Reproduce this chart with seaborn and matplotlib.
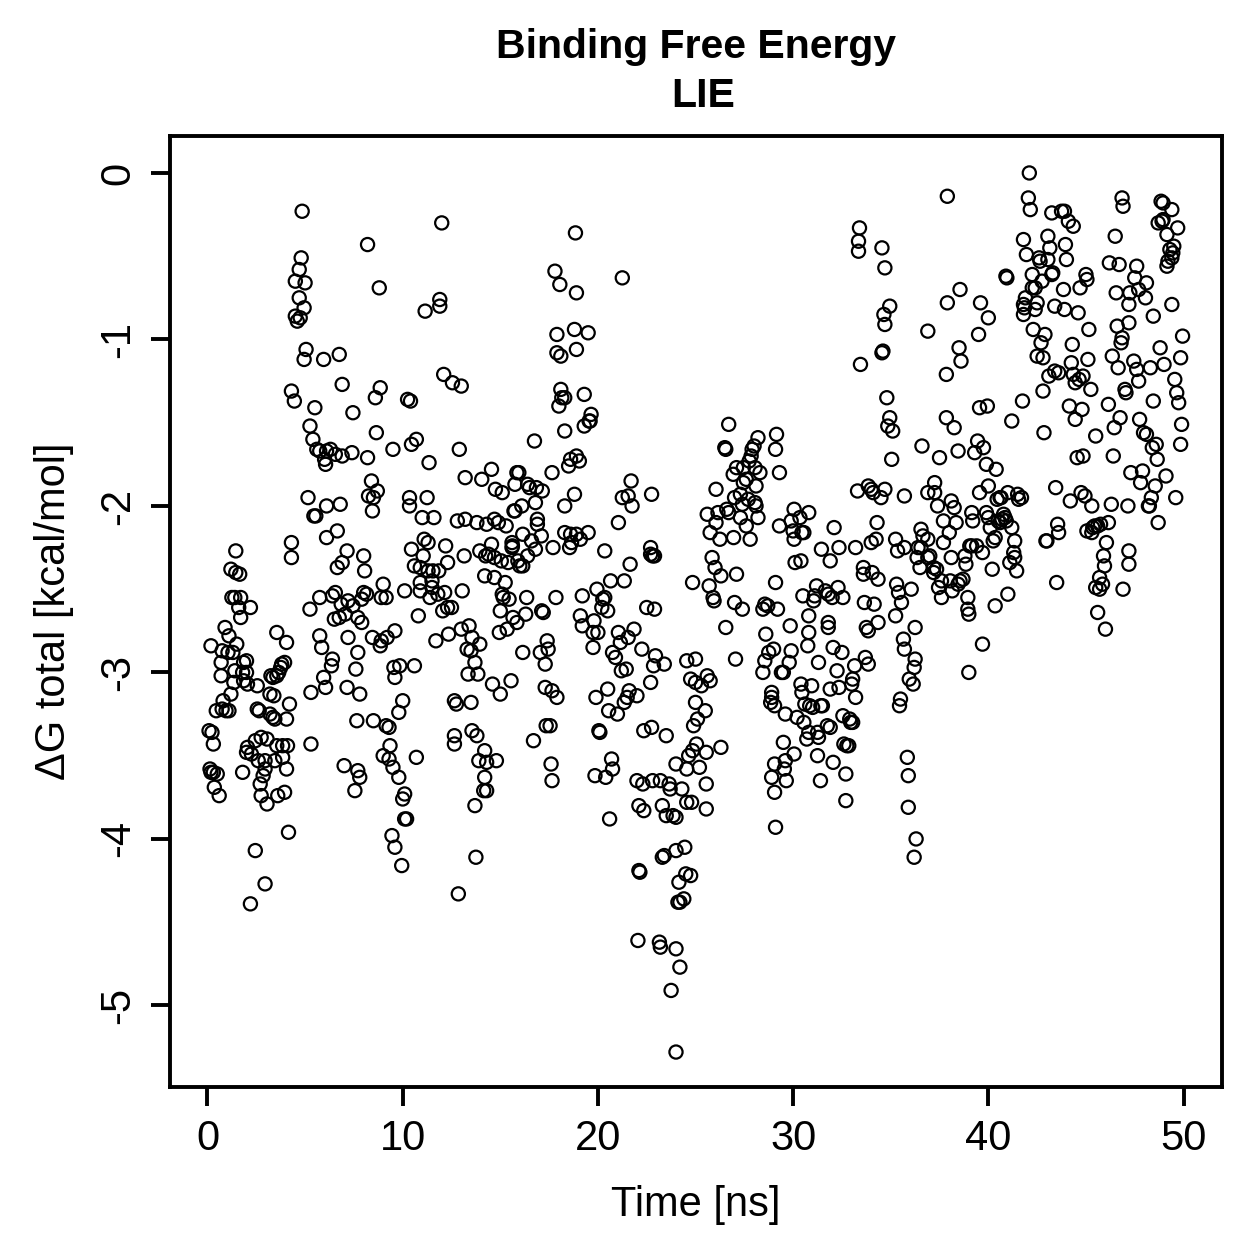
import matplotlib
matplotlib.use("Agg")
import matplotlib.pyplot as plt
import pandas as pd
import seaborn as sns

# (time in ns, total binding free energy in kcal/mol), grouped by 10 ns windows
window_00_10 = [
(0.08,-3.35),(0.23,-3.36),(0.13,-3.58),(0.18,-3.6),(0.3,-3.6),(0.5,-3.61),(0.35,-3.69),(0.6,-3.74),(0.18,-2.84),(0.3,-3.43),
(0.9,-2.73),(1.1,-2.78),(0.75,-2.87),(1.05,-2.88),(1.3,-2.88),(0.7,-2.94),(0.7,-3.02),(1.4,-2.99),(0.45,-3.23),(0.8,-3.17),
(0.75,-3.22),(0.95,-3.23),(1.1,-3.23),(1.2,-3.13),(1.35,-3.06),(1.5,-2.83),(1.2,-2.38),(1.45,-2.27),(1.45,-2.4),(1.65,-2.41),
(1.25,-2.55),(1.4,-2.55),(1.7,-2.55),(1.6,-2.61),(2.2,-2.61),(1.7,-2.67),(1.85,-2.94),(2.0,-2.93),(1.8,-3.0),(2.0,-3.0),
(1.85,-3.05),(2.05,-3.07),(1.8,-3.6),(2.05,-3.45),(2.0,-3.48),(2.25,-3.49),(2.45,-3.41),(2.75,-3.39),(3.05,-3.4),(2.6,-3.53),
(2.95,-3.53),(2.95,-3.58),(2.85,-3.62),(2.7,-3.67),(2.75,-3.74),(3.05,-3.79),(2.45,-4.07),(2.95,-4.27),(2.2,-4.39),(2.55,-3.08),
(2.55,-3.22),(2.65,-3.23),(3.25,-3.02),(3.35,-3.03),(3.55,-3.02),(3.2,-3.13),(3.4,-3.14),(3.2,-3.25),(3.35,-3.27),(3.45,-3.28),
(3.55,-2.76),(3.8,-2.95),(3.75,-2.97),(3.95,-2.94),(3.65,-3.0),(4.05,-2.82),(4.05,-3.28),(4.2,-3.19),(3.55,-3.44),(3.85,-3.44),
(4.1,-3.44),(3.85,-3.51),(4.05,-3.58),(3.95,-3.72),(3.6,-3.74),(4.15,-3.96),(3.45,-3.53),(4.85,-0.23),(4.8,-0.51),(4.7,-0.58),
(5.0,-0.66),(4.5,-0.65),(4.7,-0.75),(4.5,-0.86),(4.95,-0.81),(4.75,-0.87),(4.6,-0.89),(4.3,-1.31),(4.45,-1.37),(4.3,-2.22),
(4.3,-2.31),(5.05,-1.06),(4.95,-1.12),(5.95,-1.12),(6.75,-1.09),(6.9,-1.27),(5.5,-1.41),(5.25,-1.52),(5.4,-1.6),(5.6,-1.66),
(5.75,-1.67),(6.1,-1.67),(6.3,-1.66),(6.0,-1.72),(6.05,-1.75),(6.55,-1.69),(6.9,-1.7),(7.4,-1.68),(7.45,-1.44),(8.2,-1.71),
(5.15,-1.95),(5.45,-2.06),(5.55,-2.06),(5.25,-2.62),(6.1,-2.0),(6.8,-1.99),(6.65,-2.15),(6.1,-2.19),(7.15,-2.27),(6.9,-2.34),
(6.65,-2.37),(8.0,-2.3),(8.05,-2.39),(8.4,-1.85),(8.25,-1.94),(8.5,-1.95),(8.45,-2.03),(8.7,-1.91),(8.65,-1.56),(8.2,-0.43),
(8.8,-0.69),(8.6,-1.35),(8.85,-1.29),(9.5,-1.66),(5.75,-2.55),(6.4,-2.54),(6.55,-2.52),(6.5,-2.68),(6.85,-2.59),(7.2,-2.57),
(7.45,-2.6),(7.05,-2.65),(6.75,-2.67),(7.7,-2.67),(7.9,-2.7),(8.0,-2.52),(8.15,-2.53),(7.9,-2.56),(9.0,-2.47),(8.9,-2.55),
(9.15,-2.55),(5.75,-2.78),(5.85,-2.85),(6.4,-2.92),(6.35,-2.96),(7.2,-2.79),(7.7,-2.88),(7.6,-2.98),(7.15,-3.09),
(5.95,-3.03),(5.3,-3.12),(6.05,-3.09),(7.8,-3.13),(8.45,-2.79),(8.9,-2.81),(8.85,-2.84),(9.2,-2.79),(9.6,-2.75),(9.55,-2.97),
(9.85,-2.96),(9.6,-3.03),(10.0,-3.17),(9.8,-3.24),(8.5,-3.29),(7.65,-3.29),(5.3,-3.43),(7.0,-3.56),(7.7,-3.59),(7.8,-3.63),
(7.55,-3.71),(9.0,-3.5),(9.3,-3.52),(9.15,-3.32),(9.3,-3.33),(9.35,-3.44),(9.5,-3.57),(9.8,-3.63),(10.0,-3.76),(10.1,-3.73),
(9.45,-3.98),(9.6,-4.05),(9.95,-4.16),
]

window_10_20 = [
(10.1,-3.88),(10.2,-3.88),(10.7,-3.51),(10.25,-1.36),(10.4,-1.37),(10.45,-1.63),(10.7,-1.6),(10.35,-1.95),(10.35,-2.0),(11.25,-1.95),
(11.35,-1.74),(11.15,-0.83),(11.9,-0.8),(11.9,-0.76),(12.0,-0.3),(12.1,-1.21),(12.55,-1.26),(13.0,-1.28),(12.9,-1.66),(13.2,-1.83),
(14.05,-1.84),(14.55,-1.78),(14.75,-1.9),
(10.45,-2.26),(11.1,-2.2),(11.3,-2.22),(11.05,-2.3),(12.2,-2.24),(13.15,-2.3),(10.6,-2.36),(10.9,-2.37),(11.3,-2.39),(11.55,-2.39),
(11.85,-2.39),(12.3,-2.34),(10.9,-2.46),(11.5,-2.45),(10.1,-2.51),(10.9,-2.51),(11.5,-2.49),(12.15,-2.52),(11.4,-2.55),(11.8,-2.53),
(13.05,-2.51),(12.05,-2.63),(12.3,-2.61),(12.5,-2.61),(10.8,-2.66),(11.0,-2.07),(11.6,-2.07),(12.8,-2.09),(13.2,-2.08),(13.8,-2.1),
(14.3,-2.11),(14.7,-2.08),(14.9,-2.1),(15.3,-2.12),(15.7,-2.03),(16.1,-2.0),(16.8,-1.98),(16.9,-2.08),(16.9,-2.11),(16.15,-2.17),
(17.1,-2.18),(16.6,-2.21),(16.8,-2.26),(16.4,-2.3),(15.6,-2.22),(15.62,-2.24),(15.6,-2.25),(14.55,-2.23),(13.95,-2.27),(14.25,-2.3),
(14.4,-2.29),(14.7,-2.31),(15.05,-2.33),(15.4,-2.34),(15.9,-2.33),(16.0,-2.36),(16.15,-2.36),(14.2,-2.42),(14.7,-2.43),(15.25,-2.46),
(15.1,-2.53),(15.15,-2.55),(15.45,-2.56),(16.35,-2.55),(15.0,-2.63),(15.65,-2.67),(16.3,-2.65),(15.85,-2.7),(17.2,-2.64),(17.12,-2.63),
(15.35,-2.74),(14.95,-2.76),(13.0,-2.74),(13.4,-2.72),(12.35,-2.77),(11.7,-2.81),(13.55,-2.79),(13.3,-2.86),(13.95,-2.83),(13.5,-2.87),
(13.7,-2.94),(13.35,-3.01),(13.85,-3.01),(10.6,-2.96),(12.65,-3.17),(12.75,-3.19),(13.5,-3.18),(14.6,-3.07),(15.0,-3.13),
(15.55,-3.05),(16.15,-2.88),(17.05,-2.88),(17.4,-2.81),(17.45,-2.86),(17.3,-2.95),(17.3,-3.09),(17.65,-3.11),(17.35,-3.32),(17.55,-3.32),
(12.65,-3.38),(12.65,-3.43),(13.55,-3.35),(13.8,-3.38),(13.9,-3.53),(14.2,-3.47),(14.3,-3.54),(14.8,-3.53),(14.2,-3.63),(14.15,-3.71),
(14.3,-3.71),(13.7,-3.8),(13.75,-4.11),(12.85,-4.33),(16.7,-3.41),(17.6,-3.55),(17.65,-3.65),(15.1,-1.92),(15.85,-1.8),(15.95,-1.8),
(15.75,-1.87),(16.4,-1.87),(16.5,-1.89),(15.75,-2.03),(16.75,-1.61),(16.85,-1.89),(17.15,-1.91),(17.65,-1.8),(18.0,-1.4),
(18.1,-1.3),(18.15,-1.35),(18.3,-1.35),(17.9,-0.97),(18.1,-1.1),(17.9,-1.08),(17.8,-0.59),(18.05,-0.67),(18.85,-0.36),(18.9,-0.72),
(18.8,-0.94),(19.5,-0.96),(18.9,-1.06),(19.3,-1.33),(19.6,-1.49),(19.65,-1.45),(19.55,-1.49),(19.3,-1.52),(18.3,-1.55),(18.6,-1.72),
(18.9,-1.7),(18.5,-1.76),(19.05,-1.73),(18.8,-1.93),(18.3,-2.0),(18.3,-2.16),(18.6,-2.17),(18.9,-2.17),(18.65,-2.22),(18.55,-2.25),
(19.1,-2.2),(19.5,-2.16),(17.7,-2.25),(17.85,-2.55),(19.2,-2.54),(19.95,-2.5),(19.1,-2.66),(19.2,-2.72),(19.8,-2.69),(19.75,-2.76),
(20.0,-2.76),(19.75,-2.85),(19.9,-3.15),(19.85,-3.62),(17.9,-3.15),
]

window_20_30 = [
(20.05,-3.35),(20.1,-3.36),(20.7,-3.52),(20.75,-3.58),(20.4,-3.63),(20.6,-3.88),(20.35,-2.55),(20.25,-2.56),(20.5,-2.63),(20.2,-2.61),
(20.35,-2.27),(20.65,-2.45),(21.35,-2.45),(21.85,-2.74),(21.55,-2.79),(21.05,-2.76),(21.15,-2.82),(20.75,-2.88),(20.9,-2.91),(21.2,-2.99),
(21.45,-2.98),(20.5,-3.1),(21.6,-3.11),(22.0,-3.14),(21.5,-3.15),(21.35,-3.18),(20.55,-3.23),(21.0,-3.25),(21.65,-2.35),
(21.05,-2.1),(21.25,-1.95),(21.55,-1.94),(21.7,-1.85),(21.75,-2.0),(21.25,-0.63),(22.25,-2.86),(22.95,-2.9),(22.85,-2.96),(23.4,-2.95),
(22.7,-3.06),(22.0,-3.65),(22.3,-3.67),(22.1,-3.8),(22.35,-3.83),(22.8,-3.65),(23.2,-3.65),(23.65,-3.67),(23.3,-3.8),(23.5,-3.86),
(23.7,-3.7),(23.85,-3.86),(24.0,-3.87),(24.0,-3.55),(24.55,-3.58),(24.3,-3.7),(22.15,-4.2),(22.1,-4.19),(23.3,-4.11),(23.4,-4.1),
(24.0,-4.07),(24.45,-4.05),(24.15,-4.26),(24.5,-4.21),(24.75,-4.22),(24.1,-4.38),(24.2,-4.38),(24.4,-4.36),(22.05,-4.61),(23.15,-4.62),
(23.2,-4.65),(24.0,-4.66),(24.2,-4.77),(23.75,-4.91),(24.0,-5.28),(22.35,-3.35),(22.75,-3.33),(23.5,-3.38),(22.7,-2.25),(22.7,-2.29),
(22.8,-2.3),(22.9,-2.3),(22.5,-2.61),(22.9,-2.62),(22.75,-1.93),(24.55,-2.93),(25.0,-2.92),(24.75,-3.04),(25.0,-3.06),(25.0,-3.18),
(25.3,-3.08),(25.6,-3.02),(25.75,-3.05),(24.9,-3.32),(25.1,-3.28),(25.5,-3.23),(24.65,-3.5),(24.85,-3.47),(25.05,-3.43),(25.2,-3.57),
(25.55,-3.48),(24.55,-3.78),(24.8,-3.78),(25.55,-3.82),(25.55,-3.67),(24.85,-2.46),(25.7,-2.48),(25.9,-2.55),(25.95,-2.57),(25.85,-2.31),
(26.05,-1.9),(26.3,-2.42),(26.0,-2.37),(26.5,-1.65),(26.55,-1.66),(26.7,-1.51),(27.1,-2.41),(27.0,-2.58),(27.4,-2.62),(26.55,-2.73),
(27.05,-2.92),(26.3,-3.45),(27.1,-1.77),(26.93,-1.81),(27.45,-1.77),(28.05,-1.77),(28.3,-1.8),(27.45,-1.86),(27.6,-1.84),(28.1,-1.88),
(27.3,-1.93),(27.0,-1.95),(27.7,-1.96),(28.05,-1.98),(28.1,-2.0),(27.4,-1.99),(26.6,-2.02),(26.15,-2.04),(25.6,-2.05),(26.7,-2.04),
(27.3,-2.07),(28.2,-2.07),(26.05,-2.1),(25.75,-2.16),(27.6,-2.12),(26.25,-2.2),(26.95,-2.19),(27.8,-2.2),(27.85,-1.7),(27.9,-1.66),
(28.0,-1.64),(27.75,-1.73),(28.2,-1.59),(28.55,-2.59),(28.7,-2.6),(28.45,-2.62),(28.6,-2.77),(28.75,-2.88),(28.55,-2.93),
(28.45,-3.0),(29.0,-2.86),(29.15,-1.57),(29.1,-1.66),(29.3,-1.8),(29.3,-2.12),(29.1,-2.46),(29.2,-2.62),(28.9,-3.12),(28.9,-3.15),
(28.85,-3.18),(29.05,-3.2),(28.9,-3.63),(29.05,-3.55),(29.05,-3.72),(29.1,-3.93),(29.4,-3.0),(29.5,-3.42),
(29.55,-3.58),(29.6,-3.53),(29.65,-3.65),
]

window_30_40 = [
(29.9,-2.09),(30.05,-2.02),(30.0,-2.15),(30.05,-2.2),(30.1,-2.34),(30.4,-2.33),(30.45,-2.16),(30.8,-2.04),(30.35,-2.07),(30.55,-2.16),
(31.2,-2.48),(30.5,-2.54),(31.1,-2.54),(31.05,-2.57),(31.65,-2.51),(31.8,-2.53),(32.0,-2.55),(32.3,-2.49),(32.55,-2.55),(33.65,-2.58),
(34.15,-2.59),(30.8,-2.66),(29.85,-2.72),(31.8,-2.7),(31.8,-2.73),(30.8,-2.76),(30.75,-2.84),(33.75,-2.73),(33.85,-2.75),(34.35,-2.7),
(32.05,-2.85),(32.5,-2.88),(29.9,-2.87),(29.8,-2.94),(29.5,-3.0),(31.3,-2.94),(33.7,-2.91),(33.85,-2.95),(33.15,-2.96),(32.25,-2.99),
(30.4,-3.07),(30.95,-3.08),(30.45,-3.12),(31.9,-3.1),(32.35,-3.09),(33.05,-3.04),(33.0,-3.07),(33.2,-3.15),(30.6,-3.19),(30.85,-3.2),
(31.0,-3.21),(31.5,-3.2),(31.42,-3.2),(29.6,-3.25),(30.2,-3.27),(32.55,-3.26),(32.9,-3.28),
(30.55,-3.3),(30.7,-3.4),(30.8,-3.36),(31.25,-3.36),(31.3,-3.39),(30.05,-3.49),(31.25,-3.5),(31.4,-3.65),(31.45,-2.26),(31.9,-2.33),
(32.1,-2.13),(32.35,-2.25),(31.75,-3.32),(31.9,-3.33),(32.05,-3.54),(32.6,-3.43),(32.75,-3.44),(32.85,-3.44),(32.95,-3.3),(33.05,-3.3),
(32.7,-3.61),(32.7,-3.77),(33.3,-1.91),(33.2,-2.25),(33.6,-2.37),(33.6,-2.41),
(33.4,-0.33),(33.35,-0.41),(33.35,-0.47),(33.45,-1.15),(33.85,-1.88),
(34.0,-1.9),(34.1,-1.92),(34.25,-2.2),(34.0,-2.22),(34.3,-2.1),(34.05,-2.4),(34.35,-2.44),
(34.55,-0.45),(34.7,-0.57),(34.65,-0.85),(34.7,-0.91),(34.95,-0.8),(34.55,-1.08),(34.6,-1.07),(34.8,-1.35),(34.95,-1.47),(34.85,-1.52),
(35.1,-1.55),(35.05,-1.72),(34.5,-1.95),(34.7,-1.9),(35.25,-2.2),(35.35,-2.27),(35.7,-2.25),(35.7,-1.94),(35.3,-2.47),(35.4,-2.52),
(35.55,-2.58),(35.25,-2.66),(36.05,-2.5),(35.65,-2.8),(35.7,-2.86),(36.25,-2.73),(36.25,-2.92),(36.2,-2.97),(35.95,-3.04),(36.15,-3.07),
(35.45,-3.2),(35.5,-3.16),(35.85,-3.51),(35.9,-3.62),(35.9,-3.81),(36.3,-4.0),(36.2,-4.11),
(36.9,-1.92),(37.25,-1.92),(37.25,-1.86),(37.4,-2.0),(38.1,-1.97),(38.25,-2.01),(37.7,-2.09),(38.35,-2.1),(38.0,-2.16),(37.7,-2.22),
(36.55,-2.14),(36.65,-2.18),(36.9,-2.2),(36.4,-2.25),(36.55,-2.25),(36.35,-2.31),(37.0,-2.3),(36.9,-2.31),(36.5,-2.37),(37.2,-2.37),
(37.35,-2.38),(37.2,-2.4),(38.1,-2.31),(38.8,-2.3),(38.85,-2.35),(39.15,-2.24),(39.05,-2.24),(39.4,-2.24),(39.7,-2.28),
(37.6,-2.45),(38.05,-2.45),(37.45,-2.49),(37.6,-2.55),(38.15,-2.51),(38.55,-2.45),(38.7,-2.44),(38.45,-2.47),(38.95,-2.55),(38.95,-2.62),
(39.0,-2.65),(37.85,-1.47),(37.85,-1.21),(37.9,-0.78),(37.9,-0.14),(38.55,-0.7),
(38.5,-1.05),(38.6,-1.13),(38.45,-1.67),(38.25,-1.53),(37.5,-1.71),(36.6,-1.64),(36.9,-0.95),
(39.0,-3.0),(39.3,-1.68),(39.45,-1.61),(39.55,-1.41),
(39.75,-1.65),(39.9,-1.75),(39.95,-1.4),(39.5,-0.97),(39.6,-0.78),(40.0,-0.87),(39.55,-1.92),(39.7,-2.83),
]

window_40_45 = [
(40.0,-1.88),(40.6,-1.95),(41.0,-1.92),(41.5,-1.93),(41.55,-1.96),(39.15,-2.04),(39.2,-2.09),(39.9,-2.04),(40.0,-2.07),(40.1,-2.13),
(40.35,-2.19),(40.25,-2.21),(40.5,-2.09),(40.85,-2.07),(40.6,-2.1),(41.2,-2.13),(40.7,-2.08),(40.78,-2.05),(40.92,-2.09),
(40.2,-2.38),(41.45,-2.39),(41.1,-2.34),(41.35,-2.31),(41.3,-2.28),(41.35,-2.21),(41.0,-2.53),(40.35,-2.6),
(40.4,-1.78),(40.45,-1.96),(40.65,-1.95),(40.9,-0.62),(40.95,-0.63),(41.2,-1.49),(41.75,-1.37),(41.7,-1.95),
(42.1,0.0),(42.05,-0.15),(42.15,-0.22),(43.25,-0.24),(43.75,-0.23),(43.9,-0.23),(44.1,-0.29),(44.35,-0.32),(41.8,-0.4),(43.05,-0.38),
(43.15,-0.45),(43.95,-0.43),(44.0,-0.52),(41.95,-0.49),(42.6,-0.51),(42.65,-0.53),(43.05,-0.52),(42.25,-0.61),(42.75,-0.65),(43.25,-0.61),
(43.3,-0.6),(45.0,-0.61),(45.05,-0.64),(44.7,-0.69),(43.85,-0.7),(42.25,-0.69),(42.4,-0.69),(41.9,-0.75),(41.8,-0.79),(41.85,-0.81),
(42.5,-0.78),(42.4,-0.82),(41.8,-0.85),(43.4,-0.8),(43.9,-0.82),(44.6,-0.84),(45.15,-0.94),(44.3,-1.03),(42.3,-0.94),(42.9,-0.97),
(42.7,-1.02),(42.5,-1.1),(42.8,-1.11),(44.25,-1.14),(45.1,-1.12),(42.8,-1.31),(43.1,-1.22),(43.4,-1.19),(43.6,-1.2),(44.35,-1.21),
(44.85,-1.22),(44.45,-1.26),(44.65,-1.24),(45.25,-1.3),(44.15,-1.4),(44.8,-1.42),(44.45,-1.48),(42.85,-1.56),(45.5,-1.58),(44.55,-1.71),
(44.85,-1.7),(43.45,-1.89),(44.2,-1.97),(44.75,-1.92),(44.95,-1.94),(45.3,-2.0),(43.55,-2.11),(43.6,-2.16),(43.0,-2.21),(42.95,-2.21),
(43.5,-2.46),
]

window_45_50 = [
(46.15,-2.1),(45.75,-2.11),(45.45,-2.12),(45.05,-2.15),(45.3,-2.16),(45.35,-2.13),(45.6,-2.12),(46.05,-2.22),(45.9,-2.3),(45.95,-2.36),
(45.7,-2.43),(45.85,-2.47),(45.5,-2.49),(45.7,-2.5),(45.6,-2.64),(46.0,-2.74),(47.2,-2.27),(47.2,-2.35),(46.9,-2.5),
(46.85,-0.15),(46.9,-0.2),(48.85,-0.17),(48.95,-0.18),(49.4,-0.22),(48.95,-0.28),(48.7,-0.3),(48.9,-0.29),(49.7,-0.33),(49.15,-0.37),
(49.5,-0.44),(49.3,-0.46),(49.45,-0.48),(49.4,-0.51),(49.2,-0.53),(49.15,-0.56),(46.5,-0.38),(46.2,-0.54),(46.7,-0.55),(47.6,-0.56),
(47.5,-0.63),(48.1,-0.66),(46.55,-0.72),(47.25,-0.72),(47.7,-0.7),(48.05,-0.75),(47.2,-0.79),(49.4,-0.79),(48.45,-0.86),(47.2,-0.9),
(46.6,-0.92),(46.85,-0.99),(46.8,-1.02),(49.95,-0.98),(48.8,-1.05),(46.35,-1.1),(47.45,-1.13),(49.85,-1.11),(46.65,-1.17),(49.0,-1.15),
(48.3,-1.17),(47.6,-1.18),(47.7,-1.25),(49.55,-1.24),(49.65,-1.32),(49.75,-1.38),(46.15,-1.39),(47.0,-1.3),(47.05,-1.32),(46.75,-1.47),
(46.45,-1.53),(48.45,-1.37),(47.75,-1.48),(47.95,-1.56),(48.1,-1.57),(49.9,-1.51),(49.85,-1.63),(48.4,-1.65),(48.6,-1.63),(48.65,-1.72),
(46.4,-1.7),(47.3,-1.8),(47.9,-1.79),(47.8,-1.86),(49.1,-1.82),(48.55,-1.88),(48.35,-1.95),(49.6,-1.95),(48.2,-2.0),(48.25,-2.0),
(46.3,-1.99),(47.15,-2.0),(48.7,-2.1),
]

records = window_00_10 + window_10_20 + window_20_30 + window_30_40 + window_40_45 + window_45_50
frame = pd.DataFrame(records, columns=["time_ns", "dg_total"])

sns.set_style("white")
plt.rcParams["font.family"] = ["Liberation Sans", "DejaVu Sans"]
plt.rcParams["text.color"] = "black"
plt.rcParams["axes.labelcolor"] = "black"

fig = plt.figure(figsize=(12.59, 12.59), dpi=100)
ax = fig.add_axes([170 / 1259, 1 - 1087 / 1259, (1222 - 170) / 1259, (1087 - 136) / 1259])

sns.scatterplot(
    data=frame, x="time_ns", y="dg_total", ax=ax, marker="o", s=90,
    facecolor="none", edgecolor="black", linewidth=1.6, legend=False, clip_on=False,
)

ax.set_xlim(-1.92, 51.97)
ax.set_ylim(-5.49, 0.222)
ax.set_xticks([0, 10, 20, 30, 40, 50])
ax.set_yticks([0, -1, -2, -3, -4, -5])
ax.set_yticklabels(["0", "-1", "-2", "-3", "-4", "-5"], rotation=90, va="center")
ax.tick_params(axis="both", which="major", length=13.5, width=2.8, labelsize=30,
               color="black", labelcolor="black", direction="out",
               bottom=True, left=True, pad=9.5)
for side in ax.spines.values():
    side.set_linewidth(2.8)
    side.set_color("black")

ax.set_xlabel("Time [ns]", fontsize=30, labelpad=19)
ax.set_ylabel("ΔG total [kcal/mol]", fontsize=30, labelpad=17)
fig.text(696 / 1259, 1 - 47 / 1259, "Binding Free Energy", ha="center", va="center",
         fontsize=29.5, fontweight="bold")
fig.text(703 / 1259, 1 - 96 / 1259, "LIE", ha="center", va="center",
         fontsize=29.5, fontweight="bold")

fig.savefig("out.png", dpi=100, facecolor="white")
